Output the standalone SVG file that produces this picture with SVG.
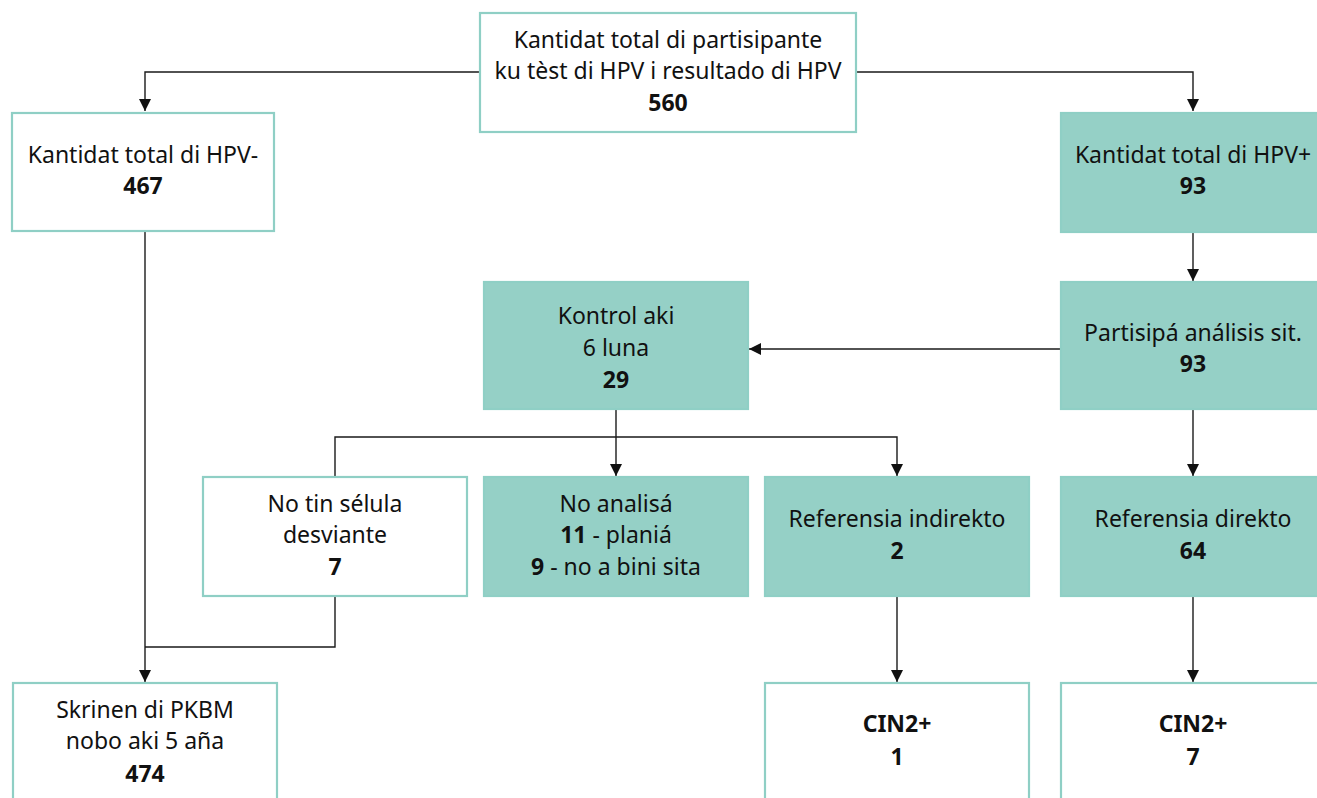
<svg xmlns="http://www.w3.org/2000/svg" width="1317" height="798" viewBox="0 0 1317 798">
<style>
.box{stroke:#8fcfc5;stroke-width:2.2}
.w{fill:#ffffff}
.f{fill:#95d0c6}
text{font-family:"Noto Sans","Open Sans","DejaVu Sans",sans-serif;font-size:23px;fill:#111;text-anchor:middle}
.b{font-weight:700}
.c{fill:none;stroke:#1a1a1a;stroke-width:1.4}
</style>
<defs>
<marker id="ah" viewBox="0 0 12 12" refX="12" refY="6" markerWidth="12" markerHeight="12" markerUnits="userSpaceOnUse" orient="auto">
<path d="M0,0 L12,6 L0,12 Z" fill="#111"/>
</marker>
</defs>
<rect width="1317" height="798" fill="#ffffff"/>
<g id="connectors">
<path class="c" d="M480,72 H145 V111" marker-end="url(#ah)"/>
<path class="c" d="M857,72 H1193 V111" marker-end="url(#ah)"/>
<path class="c" d="M1193,232 V281" marker-end="url(#ah)"/>
<path class="c" d="M1061,349 H749" marker-end="url(#ah)"/>
<path class="c" d="M616,409 V476" marker-end="url(#ah)"/>
<path class="c" d="M335,476 V437 H897 V476" marker-end="url(#ah)"/>
<path class="c" d="M1193,409 V476" marker-end="url(#ah)"/>
<path class="c" d="M145,231 V682" marker-end="url(#ah)"/>
<path class="c" d="M335,596 V647 H145"/>
<path class="c" d="M897,596 V682" marker-end="url(#ah)"/>
<path class="c" d="M1193,596 V682" marker-end="url(#ah)"/>
</g>
<g id="n-total">
<rect class="box w" x="480" y="13" width="376" height="119"/>
<text x="668" y="48">Kantidat total di partisipante</text>
<text x="668" y="79">ku tèst di HPV i resultado di HPV</text>
<text class="b" x="668" y="111">560</text>
</g>
<g id="n-hpvneg">
<rect class="box w" x="12" y="113" width="262" height="118"/>
<text x="143" y="163">Kantidat total di HPV-</text>
<text class="b" x="143" y="194">467</text>
</g>
<g id="n-hpvpos">
<rect class="box f" x="1061" y="113" width="264" height="119"/>
<text x="1193" y="163">Kantidat total di HPV+</text>
<text class="b" x="1193" y="194">93</text>
</g>
<g id="n-partisipa">
<rect class="box f" x="1061" y="282" width="264" height="127"/>
<text x="1193" y="341">Partisipá análisis sit.</text>
<text class="b" x="1193" y="372">93</text>
</g>
<g id="n-kontrol">
<rect class="box f" x="484" y="282" width="264" height="127"/>
<text x="616" y="324">Kontrol aki</text>
<text x="616" y="356">6 luna</text>
<text class="b" x="616" y="388">29</text>
</g>
<g id="n-notin">
<rect class="box w" x="203" y="477" width="264" height="119"/>
<text x="335" y="512">No tin sélula</text>
<text x="335" y="543">desviante</text>
<text class="b" x="335" y="575">7</text>
</g>
<g id="n-noanalisa">
<rect class="box f" x="484" y="477" width="264" height="119"/>
<text x="616" y="512">No analisá</text>
<text x="616" y="543"><tspan class="b">11</tspan> - planiá</text>
<text x="616" y="575"><tspan class="b">9</tspan> - no a bini sita</text>
</g>
<g id="n-indirekto">
<rect class="box f" x="765" y="477" width="264" height="119"/>
<text x="897" y="527">Referensia indirekto</text>
<text class="b" x="897" y="559">2</text>
</g>
<g id="n-direkto">
<rect class="box f" x="1061" y="477" width="264" height="119"/>
<text x="1193" y="527">Referensia direkto</text>
<text class="b" x="1193" y="559">64</text>
</g>
<g id="n-skrinen">
<rect class="box w" x="13" y="683" width="264" height="130"/>
<text x="145" y="718">Skrinen di PKBM</text>
<text x="145" y="749">nobo aki 5 aña</text>
<text class="b" x="145" y="782">474</text>
</g>
<g id="n-cin1">
<rect class="box w" x="765" y="683" width="264" height="130"/>
<text class="b" x="897" y="732">CIN2+</text>
<text class="b" x="897" y="765">1</text>
</g>
<g id="n-cin7">
<rect class="box w" x="1061" y="683" width="264" height="130"/>
<text class="b" x="1193" y="732">CIN2+</text>
<text class="b" x="1193" y="765">7</text>
</g>
</svg>
